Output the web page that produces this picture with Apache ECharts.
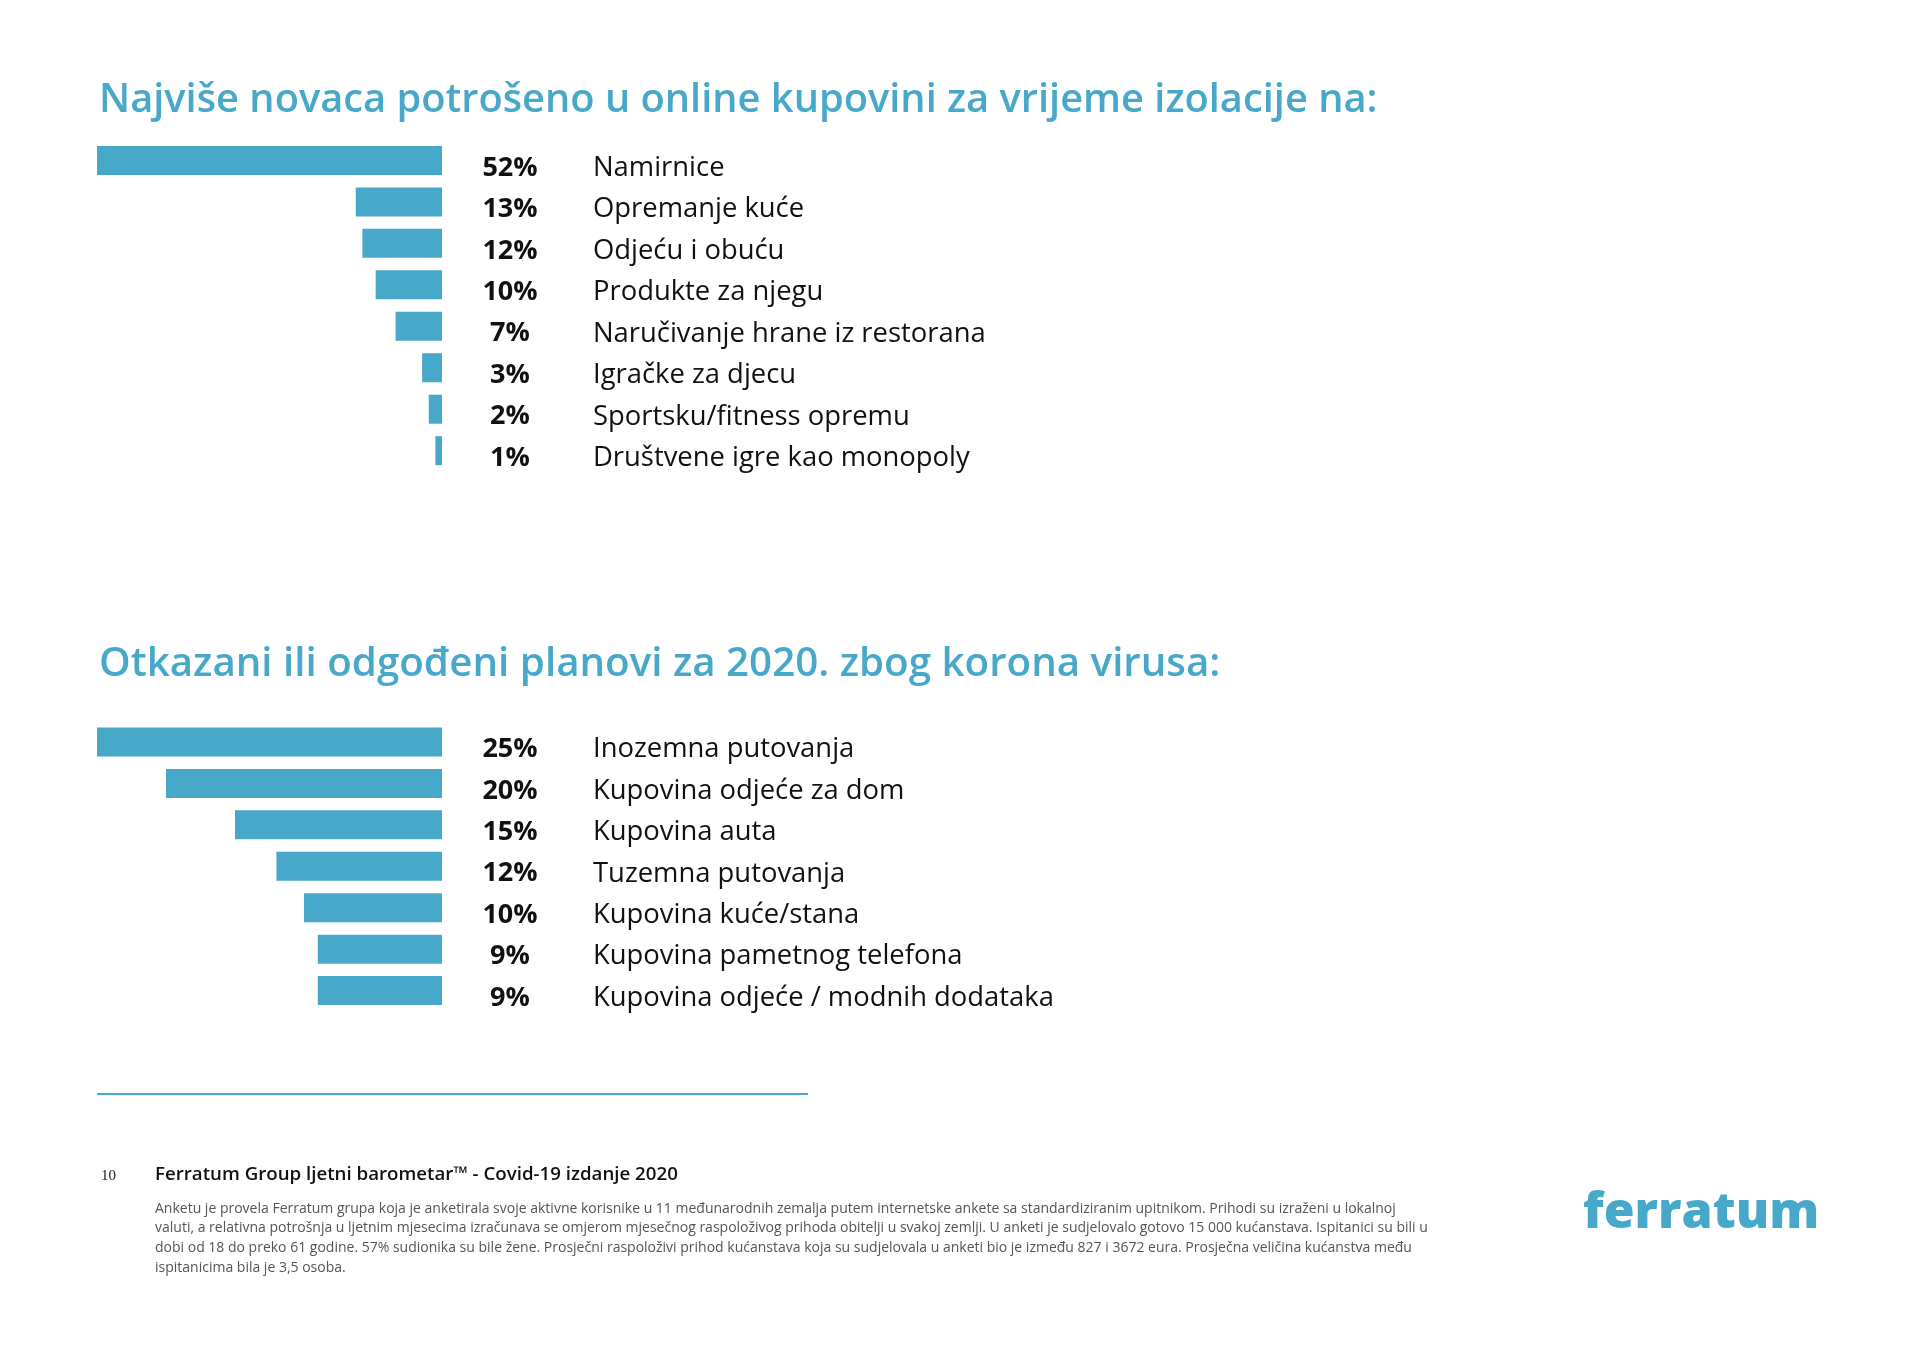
<!DOCTYPE html>
<html>
<head>
<meta charset="utf-8">
<script src="https://cdn.jsdelivr.net/npm/echarts@6/dist/echarts.min.js"></script>
<style>
html,body{margin:0;padding:0;background:#fff;}
#c{width:1920px;height:1357px;}
</style>
</head>
<body>
<div id="c"></div>
<script>
// ---- Data ----
const title1 = "Najviše novaca potrošeno u online kupovini za vrijeme izolacije na:";
const cats1 = ["Namirnice","Opremanje kuće","Odjeću i obuću","Produkte za njegu","Naručivanje hrane iz restorana","Igračke za djecu","Sportsku/fitness opremu","Društvene igre kao monopoly"];
const vals1 = [52,13,12,10,7,3,2,1];

const title2 = "Otkazani ili odgođeni planovi za 2020. zbog korona virusa:";
const cats2 = ["Inozemna putovanja","Kupovina odjeće za dom","Kupovina auta","Tuzemna putovanja","Kupovina kuće/stana","Kupovina pametnog telefona","Kupovina odjeće / modnih dodataka"];
const vals2 = [25,20,15,12,10,9,9];

const pageNum = "10";
const footTitle = "Ferratum Group ljetni barometar™ - Covid-19 izdanje 2020";
const footText = "Anketu je provela Ferratum grupa koja je anketirala svoje aktivne korisnike u 11 međunarodnih zemalja putem internetske ankete sa standardiziranim upitnikom. Prihodi su izraženi u lokalnoj\nvaluti, a relativna potrošnja u ljetnim mjesecima izračunava se omjerom mjesečnog raspoloživog prihoda obitelji u svakoj zemlji. U anketi je sudjelovalo gotovo 15 000 kućanstava. Ispitanici su bili u\ndobi od 18 do preko 61 godine. 57% sudionika su bile žene. Prosječni raspoloživi prihod kućanstava koja su sudjelovala u anketi bio je između 827 i 3672 eura. Prosječna veličina kućanstva među\nispitanicima bila je 3,5 osoba.";
const logoText = "ferratum";

// ---- Styles ----
const BLUE = "#48a8c9";
const FONT = "'Open Sans', sans-serif";

const chart = echarts.init(document.getElementById('c'));

function yAxisFor(cats, vals, gi) {
  return {
    type: 'category', gridIndex: gi, data: cats, inverse: true, position: 'right',
    axisLine: {show:false}, axisTick: {show:false}, splitLine: {show:false},
    axisLabel: {
      margin: 26, align: 'left', padding: [15,0,0,0],
      formatter: (v, i) => '{p|' + vals[i] + '%}{c|' + v + '}',
      rich: {
        p: {width: 84, align: 'center', fontFamily: FONT, fontWeight: 700, fontSize: 27, color: '#111'},
        c: {padding: [0,0,0,41], fontFamily: FONT, fontSize: 27.4, color: '#111'}
      }
    }
  };
}
function xAxisFor(vals, gi) {
  return {type: 'value', gridIndex: gi, inverse: true, min: 0, max: Math.max(...vals), show: false};
}

chart.setOption({
  backgroundColor: '#fff',
  animation: false,
  title: [
    {text: title1, left: 94, top: 76, textStyle: {fontFamily: FONT, fontWeight: 600, fontSize: 39.8, color: BLUE}},
    {text: title2, left: 94, top: 640, textStyle: {fontFamily: FONT, fontWeight: 600, fontSize: 40.3, color: BLUE}},
    {text: pageNum, left: 96, top: 1164, textStyle: {fontFamily: "'Liberation Serif', serif", fontWeight: 400, fontSize: 15, color: '#222'}},
    {text: footTitle, left: 150, top: 1160, textStyle: {fontFamily: FONT, fontWeight: 600, fontSize: 18.7, color: '#111'}},
    {text: footText, left: 150, top: 1194, textStyle: {fontFamily: FONT, fontWeight: 400, fontSize: 14, lineHeight: 19.6, color: '#555'}},
    {text: logoText, left: 1578, top: 1184, textStyle: {fontFamily: FONT, fontWeight: 800, fontSize: 50, color: BLUE}}
  ],
  grid: [
    {left: 97, width: 345, top: 139.7, height: 331.7},
    {left: 97, width: 345, top: 721.3, height: 290}
  ],
  xAxis: [xAxisFor(vals1, 0), xAxisFor(vals2, 1)],
  yAxis: [yAxisFor(cats1, vals1, 0), yAxisFor(cats2, vals2, 1)],
  series: [
    {type: 'bar', xAxisIndex: 0, yAxisIndex: 0, data: vals1, barWidth: 29, itemStyle: {color: BLUE}},
    {type: 'bar', xAxisIndex: 1, yAxisIndex: 1, data: vals2, barWidth: 29, itemStyle: {color: BLUE}}
  ],
  graphic: [
    {type: 'line', shape: {x1: 97, y1: 1094, x2: 808, y2: 1094}, style: {stroke: BLUE, lineWidth: 2}}
  ]
});
</script>
</body>
</html>
